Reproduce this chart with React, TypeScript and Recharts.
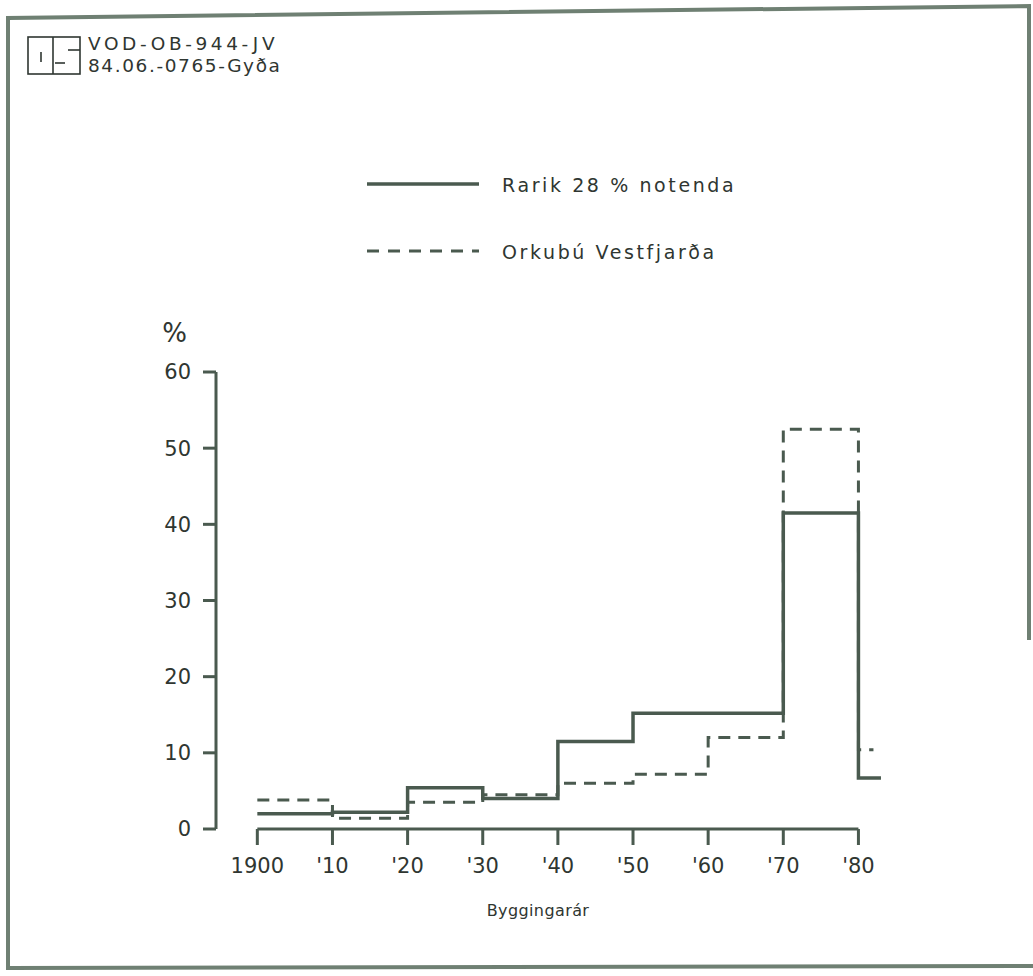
import React from 'react';
import { LineChart, Line, XAxis, YAxis, ReferenceLine } from 'recharts';

const years = [1900, 1910, 1920, 1930, 1940, 1950, 1960, 1970, 1980];
const rarikValues = [2.0, 2.2, 5.4, 4.0, 11.5, 15.2, 15.2, 41.5, 6.7];
const orkubuValues = [3.8, 1.4, 3.5, 4.5, 6.0, 7.2, 12.0, 52.5, 10.4];
const rarikEndYear = 1983;
const orkubuEndYear = 1982;
const xTickLabels = ['1900', "'10", "'20", "'30", "'40", "'50", "'60", "'70", "'80"];
const yTicks = [0, 10, 20, 30, 40, 50, 60];
const seriesNames = ['Rarik 28 % notenda', 'Orkubú Vestfjarða'];
const headerLines = ['VOD-OB-944-JV', '84.06.-0765-Gyða'];
const xAxisTitle = 'Byggingarár';
const yAxisTitle = '%';

const rarikData = years
  .map((y, i) => ({ year: y, value: rarikValues[i] }))
  .concat([{ year: rarikEndYear, value: rarikValues[rarikValues.length - 1] }]);
const orkubuData = years
  .map((y, i) => ({ year: y, value: orkubuValues[i] }))
  .concat([{ year: orkubuEndYear, value: orkubuValues[orkubuValues.length - 1] }]);

const INK = '#4a5a4f';
const TEXT = '#2f3631';
const FONT = '"DejaVu Sans", sans-serif';

const fmtX = (v: number) => {
  const i = years.indexOf(v);
  return i >= 0 ? xTickLabels[i] : String(v);
};

export default function App() {
  return (
    <div style={{ position: 'absolute', left: 0, top: 0, width: 1033, height: 976, background: '#fff', fontFamily: FONT }}>
      <svg width={1033} height={976} style={{ position: 'absolute', left: 0, top: 0 }}>
        {/* frame */}
        <polyline points="1029,640 1029,6 8,18 8,968 1033,966" fill="none" stroke="#6f8073" strokeWidth={4} />
        {/* logo */}
        <g stroke={TEXT} strokeWidth={1.6} fill="none">
          <rect x={28} y={37} width={52} height={37} />
          <line x1={53} y1={37} x2={53} y2={74} />
          <line x1={41} y1={52} x2={41} y2={62} />
          <line x1={68} y1={50} x2={80} y2={50} />
          <line x1={55} y1={63} x2={65} y2={63} />
        </g>
        <text x={88} y={50} fontSize={18.5} fill={TEXT} style={{ letterSpacing: 3.6 }} fontFamily={FONT}>{headerLines[0]}</text>
        <text x={88} y={72} fontSize={18.5} fill={TEXT} style={{ letterSpacing: 1.6 }} fontFamily={FONT}>{headerLines[1]}</text>
        {/* legend */}
        <line x1={367} y1={184} x2={479} y2={184} stroke={INK} strokeWidth={3.5} />
        <text x={502} y={192} fontSize={19} fill={TEXT} style={{ letterSpacing: 2.6 }} fontFamily={FONT}>{seriesNames[0]}</text>
        <line x1={367} y1={251} x2={479} y2={251} stroke={INK} strokeWidth={3} strokeDasharray="12 9" />
        <text x={502} y={259} fontSize={19} fill={TEXT} style={{ letterSpacing: 2.6 }} fontFamily={FONT}>{seriesNames[1]}</text>
      </svg>
      <div style={{ position: 'absolute', left: 0, top: 0 }}>
        <LineChart width={1033} height={976} margin={{ top: 372, right: 137, bottom: 0, left: 0 }}>
          <XAxis
            dataKey="year"
            type="number"
            domain={[1894.5, 1985]}
            ticks={years}
            tickFormatter={fmtX}
            height={147}
            axisLine={false}
            tickLine={{ stroke: INK, strokeWidth: 3 }}
            tickSize={16}
            tickMargin={13}
            tick={{ fill: TEXT, fontSize: 21, fontFamily: FONT }}
            allowDataOverflow
            label={{ value: xAxisTitle, position: 'insideBottom', offset: 60, dx: -18, fill: TEXT, fontSize: 16, fontFamily: FONT, style: { letterSpacing: 0.4 } }}
          />
          <YAxis
            dataKey="value"
            type="number"
            domain={[0, 60]}
            ticks={yTicks}
            width={216}
            axisLine={{ stroke: INK, strokeWidth: 3 }}
            tickLine={{ stroke: INK, strokeWidth: 3 }}
            tickSize={13}
            tickMargin={12}
            tick={{ fill: TEXT, fontSize: 21, fontFamily: FONT }}
            label={{ value: yAxisTitle, position: 'insideTopRight', offset: 0, dx: -29, dy: -48, fill: TEXT, fontSize: 26, fontFamily: FONT }}
          />
          <ReferenceLine segment={[{ x: 1900, y: 0 }, { x: 1980, y: 0 }]} stroke={INK} strokeWidth={3} />
          <Line data={rarikData} dataKey="value" type="stepAfter" stroke={INK} strokeWidth={3.5} dot={false} isAnimationActive={false} name={seriesNames[0]} />
          <Line data={orkubuData} dataKey="value" type="stepAfter" stroke={INK} strokeWidth={3} strokeDasharray="12 8" dot={false} isAnimationActive={false} name={seriesNames[1]} />
        </LineChart>
      </div>
    </div>
  );
}
